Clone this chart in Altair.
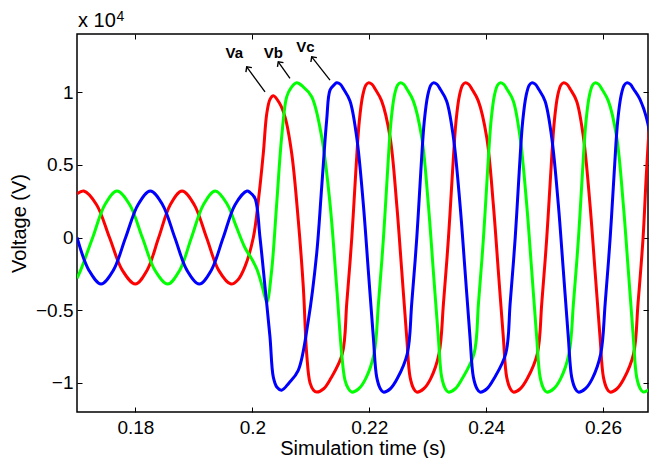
import altair as alt
import pandas as pd

FONT = "Liberation Sans"

# Voltage values are in units of 10^4 V (axis reads "x 10^4").
# Shape of one post-fault rising edge (trough -> peak) and falling edge (peak -> trough)
rise_v = [-1.04, -0.97, -0.80, -0.45, 0.0, 0.45, 0.80, 0.98, 1.048, 1.064]
fall_v = [1.055, 1.02, 0.94, 0.69, 0.23, -0.225, -0.684, -0.96, -1.04, -1.063]

# ---- Va (red)
va_t = [0.17000, 0.17115, 0.17335, 0.17556, 0.17777, 0.17998, 0.18198, 0.18398,
        0.18596, 0.18797, 0.19006, 0.19216, 0.19425, 0.19635, 0.19755, 0.19874,
        0.20017, 0.20102, 0.20188, 0.20246, 0.20302, 0.20359, 0.20456, 0.20559,
        0.20674, 0.20786, 0.20872, 0.20930, 0.20987, 0.21047, 0.21101,
        0.21221, 0.21341, 0.21539, 0.21616, 0.21702, 0.21770, 0.21830, 0.21890, 0.21941, 0.21984,
        0.22044, 0.22104, 0.22212, 0.22357, 0.22470, 0.22556, 0.22641, 0.22699, 0.22761, 0.22812,
        0.22932, 0.23052, 0.23194, 0.23271, 0.23356, 0.23425, 0.23485, 0.23545, 0.23596, 0.23639,
        0.23699, 0.23759, 0.23866, 0.24010, 0.24123, 0.24208, 0.24294, 0.24352, 0.24414, 0.24465,
        0.24585, 0.24705, 0.24876, 0.24953, 0.25038, 0.25107, 0.25167, 0.25226, 0.25278, 0.25321,
        0.25381, 0.25441, 0.25548, 0.25665, 0.25777, 0.25863, 0.25949, 0.26007, 0.26068, 0.26120,
        0.26239, 0.26359, 0.26523, 0.26600, 0.26686, 0.26744, 0.26804, 0.26874, 0.26968]
va_v = ([0.30, 0.32, 0.226, 0.0, -0.226, -0.32, -0.226, 0.0,
         0.226, 0.32, 0.226, 0.0, -0.226, -0.32, -0.29, -0.20,
         0.0, 0.25, 0.58, 0.85, 0.95, 0.975, 0.93, 0.83,
         0.578, 0.119, -0.34, -0.8, -1.0, -1.05, -1.063]
        + rise_v + fall_v + rise_v + fall_v + rise_v + fall_v
        + [-1.04, -0.97, -0.80, -0.45, 0.0, 0.45, 0.80, 0.98, 1.064])

# ---- Vb (green)
vb_t = [0.17000, 0.17061, 0.17269, 0.17477, 0.17684, 0.17902, 0.18118, 0.18335,
        0.18552, 0.18756, 0.18959, 0.19163, 0.19366, 0.19575,
        0.19721, 0.19874, 0.19994, 0.20080, 0.20165, 0.20217, 0.20251, 0.20331,
        0.20417, 0.20502, 0.20588, 0.20662, 0.20759, 0.20862, 0.21016, 0.21187,
        0.21329, 0.21443, 0.21529, 0.21585, 0.21645, 0.21700,
        0.21820, 0.21940, 0.22082, 0.22159, 0.22244, 0.22313, 0.22373, 0.22432, 0.22484, 0.22527,
        0.22587, 0.22647, 0.22754, 0.22898, 0.23011, 0.23096, 0.23182, 0.23240, 0.23302, 0.23353,
        0.23473, 0.23592, 0.23793, 0.23870, 0.23955, 0.24024, 0.24084, 0.24143, 0.24195, 0.24238,
        0.24298, 0.24358, 0.24465, 0.24581, 0.24694, 0.24780, 0.24865, 0.24924, 0.24985, 0.25037,
        0.25156, 0.25276, 0.25418, 0.25495, 0.25581, 0.25649, 0.25709, 0.25769, 0.25820, 0.25863,
        0.25923, 0.25983, 0.26091, 0.26234, 0.26347, 0.26433, 0.26518, 0.26576, 0.26638, 0.26689,
        0.26809]
vb_v = ([-0.28, -0.226, 0.0, 0.226, 0.32, 0.226, 0.0, -0.226,
         -0.32, -0.226, 0.0, 0.226, 0.32, 0.226,
         0.08, -0.07, -0.15, -0.22, -0.33, -0.41, -0.445, -0.225,
         0.234, 0.692, 0.968, 1.03, 1.064, 1.04, 0.968, 0.692,
         0.234, -0.34, -0.8, -0.98, -1.04, -1.063]
        + rise_v + fall_v + rise_v + fall_v + rise_v + fall_v
        + [-1.04])

# ---- Vc (blue)
vc_t = [0.17000, 0.17205, 0.17411, 0.17621, 0.17832, 0.18044, 0.18254, 0.18464,
        0.18673, 0.18883, 0.19093, 0.19296, 0.19502, 0.19705, 0.19909,
        0.19960, 0.20046, 0.20131, 0.20217, 0.20302, 0.20359, 0.20422, 0.20502,
        0.20627, 0.20786, 0.20958, 0.21101, 0.21187, 0.21272, 0.21329, 0.21400, 0.21443,
        0.21503, 0.21563, 0.21671, 0.21786, 0.21899, 0.21984, 0.22070, 0.22128, 0.22190, 0.22241,
        0.22361, 0.22480, 0.22651, 0.22728, 0.22814, 0.22882, 0.22942, 0.23002, 0.23053, 0.23096,
        0.23156, 0.23216, 0.23324, 0.23440, 0.23553, 0.23639, 0.23724, 0.23782, 0.23844, 0.23895,
        0.24015, 0.24135, 0.24335, 0.24412, 0.24498, 0.24566, 0.24626, 0.24686, 0.24737, 0.24780,
        0.24840, 0.24900, 0.25008, 0.25122, 0.25235, 0.25321, 0.25406, 0.25464, 0.25526, 0.25577,
        0.25697, 0.25817, 0.25961, 0.26038, 0.26123, 0.26192, 0.26251, 0.26311, 0.26362, 0.26405,
        0.26465, 0.26525, 0.26633, 0.26770, 0.26872]
vc_v = ([0.0, -0.226, -0.32, -0.226, 0.0, 0.226, 0.32, 0.226,
         0.0, -0.226, -0.32, -0.226, 0.0, 0.226, 0.32,
         0.31, 0.27, 0.0, -0.34, -0.684, -0.96, -1.03, -1.05,
         -1.0, -0.913, -0.57, -0.11, 0.348, 0.807, 1.014, 1.05, 1.064]
        + fall_v + rise_v + fall_v + rise_v + fall_v + rise_v
        + [1.055, 1.02, 0.95, 0.78, 0.45])

phase_names = ["Va", "Vb", "Vc"]
phase_colors = ["#ff0000", "#00ff00", "#0000ff"]

x_ticks = [0.18, 0.2, 0.22, 0.24, 0.26]
y_ticks = [-1, -0.5, 0, 0.5, 1]
x_domain = [0.17, 0.2677]
y_domain = [-1.2, 1.4]

# annotation arrows (tail -> head) and labels
arrow_tail_t = [0.20217, 0.20644, 0.21329]
arrow_tail_v = [1.002, 1.094, 1.083]
arrow_head_t = [0.19904, 0.20444, 0.21016]
arrow_head_v = [1.174, 1.209, 1.243]
label_t = [0.19690, 0.20359, 0.20910]
label_v = [1.27, 1.27, 1.31]

frames = []
for name, ts, vs in zip(phase_names, [va_t, vb_t, vc_t], [va_v, vb_v, vc_v]):
    frames.append(pd.DataFrame({"t": ts, "v": vs, "phase": name}))
df = pd.concat(frames, ignore_index=True)

arr_df = pd.DataFrame({"t1": arrow_tail_t, "v1": arrow_tail_v,
                       "t2": arrow_head_t, "v2": arrow_head_v, "name": phase_names})
lab_df = pd.DataFrame({"t": label_t, "v": label_v, "name": phase_names})
dom_df = pd.DataFrame({"t": x_domain, "v": y_domain})

xs = alt.Scale(domain=x_domain, nice=False, zero=False)
ys = alt.Scale(domain=y_domain, nice=False, zero=False)

common = dict(grid=False, domain=False, tickSize=5, tickColor="black", tickWidth=1,
              offset=-5, labelFont=FONT, labelColor="black", titleFont=FONT,
              titleColor="black", titleFontWeight="normal")

lines = alt.Chart(df).mark_line(strokeWidth=3, interpolate="catmull-rom", clip=True).encode(
    x=alt.X("t:Q", scale=xs,
            axis=alt.Axis(orient="bottom", values=x_ticks, format="~g", labelFontSize=19,
                          labelPadding=6, title="Simulation time (s)", titleFontSize=20,
                          titleY=47, titleBaseline="alphabetic", **common)),
    y=alt.Y("v:Q", scale=ys,
            axis=alt.Axis(orient="left", values=y_ticks, format="~g", labelFontSize=19,
                          labelPadding=4, title="Voltage (V)", titleFontSize=20,
                          titleX=-57, titleBaseline="alphabetic", **common)),
    color=alt.Color("phase:N", scale=alt.Scale(domain=phase_names, range=phase_colors),
                    legend=None),
)

frame_axes = alt.Chart(dom_df).mark_point(opacity=0).encode(
    x=alt.X("t:Q", scale=xs, axis=alt.Axis(orient="top", values=x_ticks, labels=False,
                                            title="", **common)),
    y=alt.Y("v:Q", scale=ys, axis=alt.Axis(orient="right", values=y_ticks, labels=False,
                                            title="", **common)),
)

shafts = alt.Chart(arr_df).mark_rule(color="black", strokeWidth=1.3).encode(
    x=alt.X("t1:Q", scale=xs, axis=None),
    y=alt.Y("v1:Q", scale=ys, axis=None),
    x2="t2:Q", y2="v2:Q",
)
heads = alt.Chart(arr_df).mark_point(shape="M-1,1L0,0L1,1", filled=False, color="black",
                                     strokeWidth=1.4, size=55, angle=324, opacity=1).encode(
    x=alt.X("t2:Q", scale=xs, axis=None),
    y=alt.Y("v2:Q", scale=ys, axis=None),
)
labels = alt.Chart(lab_df).mark_text(font=FONT, fontSize=15, fontWeight="bold",
                                     color="black").encode(
    x=alt.X("t:Q", scale=xs, axis=None),
    y=alt.Y("v:Q", scale=ys, axis=None),
    text="name:N",
)

exp_base = alt.Chart(pd.DataFrame({"txt": ["x 10"]})).mark_text(
    font=FONT, fontSize=20, align="left", baseline="alphabetic", color="black").encode(
    x=alt.value(1), y=alt.value(-7), text="txt:N")
exp_sup = alt.Chart(pd.DataFrame({"txt": ["4"]})).mark_text(
    font=FONT, fontSize=14, align="left", baseline="alphabetic", color="black").encode(
    x=alt.value(39.5), y=alt.value(-13.5), text="txt:N")

chart = alt.layer(lines, frame_axes, shafts, heads, labels, exp_base, exp_sup).resolve_axis(
    x="independent", y="independent"
).properties(
    width=571, height=378,
    padding={"left": 77, "top": 34, "right": 3, "bottom": 46},
    autosize=alt.AutoSizeParams(type="none"),
    background="white",
).configure_view(stroke="black", strokeWidth=1.5).configure_axis(grid=False)

chart.save("out.html", embed_options={"renderer": "svg", "actions": False})
